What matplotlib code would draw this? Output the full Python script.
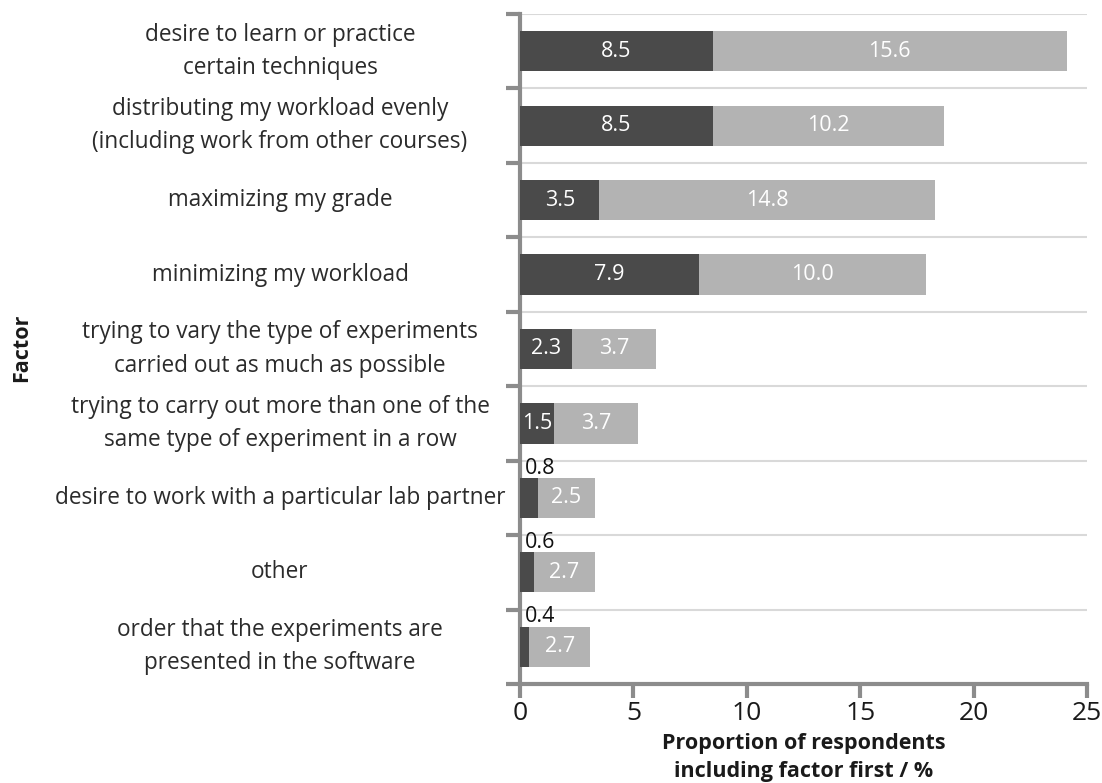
import matplotlib.pyplot as plt
import matplotlib.transforms as mtransforms
import numpy as np

plt.rcParams['font.family'] = ['Open Sans', 'DejaVu Sans']

factors = [
    "desire to learn or practice\ncertain techniques",
    "distributing my workload evenly\n(including work from other courses)",
    "maximizing my grade",
    "minimizing my workload",
    "trying to vary the type of experiments\ncarried out as much as possible",
    "trying to carry out more than one of the\nsame type of experiment in a row",
    "desire to work with a particular lab partner",
    "other",
    "order that the experiments are\npresented in the software",
]
first = [8.5, 8.5, 3.5, 7.9, 2.3, 1.5, 0.8, 0.6, 0.4]
later = [15.6, 10.2, 14.8, 10.0, 3.7, 3.7, 2.5, 2.7, 2.7]
xticks = [0, 5, 10, 15, 20, 25]

dark = '#4a4a4a'
light = '#b3b3b3'
axis_gray = '#8c8c8c'

fig = plt.figure(figsize=(11.02, 7.83), dpi=100)
ax = fig.add_axes([520 / 1102, 1 - 684 / 783, (1087 - 520) / 1102, (684 - 14) / 783])

n = len(factors)
ypos = np.arange(n) + 0.5
first = np.array(first)
later = np.array(later)

ax.barh(ypos, first, height=0.54, color=dark, zorder=3)
ax.barh(ypos, later, left=first, height=0.54, color=light, zorder=3)

# value labels: white inside the bars, small first-choice values go above in black
for y, a, b in zip(ypos, first, later):
    if a >= 1:
        ax.text(a / 2, y, f"{a:.1f}", color='white', ha='center', va='center',
                fontsize=15.5, zorder=4)
    else:
        ax.text(0.2, y - 0.26, f"{a:.1f}", color='#111111', ha='left', va='bottom',
                fontsize=15.5, zorder=4)
    ax.text(a + b / 2, y, f"{b:.1f}", color='white', ha='center', va='center',
            fontsize=15.5, zorder=4)

ax.set_xlim(0, 25)
ax.set_ylim(n, 0)
ax.set_xticks(xticks)
ax.set_xticklabels([str(t) for t in xticks], fontsize=19, color='#1a1a1a')
ax.set_yticks(np.arange(n + 1))
ax.set_yticklabels([])

for b in range(n):
    ax.axhline(b, color='#d9d9d9', lw=1.5, zorder=1)

for s in ['top', 'right']:
    ax.spines[s].set_visible(False)
for s in ['left', 'bottom']:
    ax.spines[s].set_color(axis_gray)
    ax.spines[s].set_linewidth(3)
ax.tick_params(axis='both', color=axis_gray, width=3, length=10)
ax.tick_params(axis='x', pad=2)

# category labels, centred in the left margin
trans = mtransforms.blended_transform_factory(fig.transFigure, ax.transData)
for y, lab in zip(ypos, factors):
    fig.text(280 / 1102, y, lab, ha='center', va='center', fontsize=16.3,
             color='#2b2b2b', linespacing=1.5, transform=trans)

fig.text(22 / 1102, 1 - 348 / 783, "Factor", rotation=90, ha='center', va='center',
         fontsize=15.5, fontweight='bold', color='#1a1a1a')
ax.set_xlabel("Proportion of respondents\nincluding factor first / %", fontsize=15.5,
              fontweight='bold', color='#1a1a1a', linespacing=1.45, labelpad=5)

fig.savefig('out.png', dpi=100)
